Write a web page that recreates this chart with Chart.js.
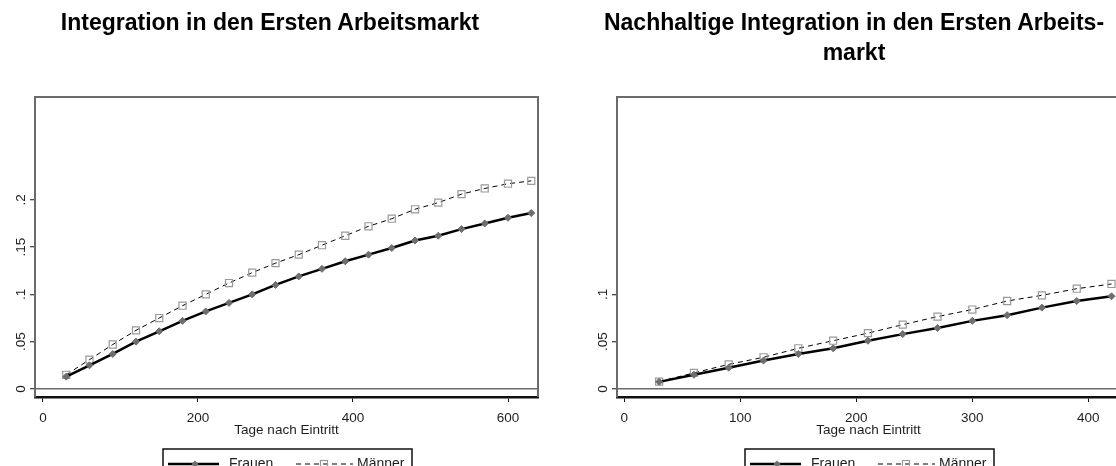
<!DOCTYPE html>
<html>
<head>
<meta charset="utf-8">
<script src="https://cdn.jsdelivr.net/npm/chart.js@4"></script>
<style>
  body { margin: 0; width: 1116px; height: 466px; overflow: hidden; background: #fff; position: relative; }
  .panel { position: absolute; top: 0; width: 560px; height: 466px; }
  .panel canvas { position: absolute; left: 0; top: 0; }
  .title { position: absolute; top: 7px; width: 540px; text-align: center; font: bold 23px "Liberation Sans", Arial, sans-serif; line-height: 30px; color: #000; z-index: 2; white-space: nowrap; }
</style>
</head>
<body>
<div class="panel" style="left:0">
  <div class="title" style="left:0">Integration in den Ersten Arbeitsmarkt</div>
  <canvas id="left" width="560" height="466"></canvas>
</div>
<div class="panel" style="left:582px">
  <div class="title" style="left:2px">Nachhaltige Integration in den Ersten Arbeits-<br>markt</div>
  <canvas id="right" width="560" height="466"></canvas>
</div>
<script>
// values
const days1 = [30, 60, 90, 120, 150, 180, 210, 240, 270, 300, 330, 360, 390, 420, 450, 480, 510, 540, 570, 600, 630];
const frauen1 = [0.013, 0.025, 0.037, 0.050, 0.061, 0.072, 0.082, 0.091, 0.100, 0.110, 0.119, 0.127, 0.135, 0.142, 0.149, 0.157, 0.162, 0.169, 0.175, 0.181, 0.186];
const maenner1 = [0.015, 0.031, 0.047, 0.062, 0.075, 0.088, 0.100, 0.112, 0.123, 0.133, 0.142, 0.152, 0.162, 0.172, 0.180, 0.190, 0.197, 0.206, 0.212, 0.217, 0.220];

const days2 = [30, 60, 90, 120, 150, 180, 210, 240, 270, 300, 330, 360, 390, 420];
const frauen2 = [0.0075, 0.015, 0.0225, 0.030, 0.037, 0.043, 0.051, 0.058, 0.0645, 0.072, 0.078, 0.086, 0.093, 0.098];
const maenner2 = [0.0078, 0.017, 0.026, 0.0335, 0.043, 0.051, 0.059, 0.068, 0.0765, 0.084, 0.093, 0.099, 0.106, 0.111];

const xTicks1 = [0, 200, 400, 600];
const xTicks2 = [0, 100, 200, 300, 400];
const yTicks1 = [0, 0.05, 0.1, 0.15, 0.2];
const yTicks2 = [0, 0.05, 0.1];
const seriesNames = ["Frauen", "Männer"];
const xTitle = "Tage nach Eintritt";

const FONT = "'Liberation Sans', Arial, sans-serif";
const TXT = "#1e1e1e";
const FRAME = "#6b6b6b";

// top and right edge of the plot region
const frame = {
  id: "frame",
  beforeDatasetsDraw(chart) {
    const { ctx, chartArea: a } = chart;
    ctx.save();
    ctx.strokeStyle = FRAME;
    ctx.lineWidth = 2;
    ctx.beginPath();
    ctx.moveTo(a.left, a.top);
    ctx.lineTo(a.right, a.top);
    ctx.lineTo(a.right, a.bottom);
    ctx.stroke();
    ctx.restore();
  }
};

function diamond(ctx, x, y, r) {
  ctx.beginPath();
  ctx.moveTo(x, y - r); ctx.lineTo(x + r, y); ctx.lineTo(x, y + r); ctx.lineTo(x - r, y);
  ctx.closePath();
  ctx.fillStyle = "#6e6e6e";
  ctx.fill();
}

// stata style legend box under the axis title
const legendBox = {
  id: "legendBox",
  afterDraw(chart) {
    const { ctx, chartArea: a } = chart;
    const x0 = Math.round((a.left + a.right) / 2) - 124;
    const top = 449, ty = 464;
    ctx.save();
    ctx.strokeStyle = "#111";
    ctx.lineWidth = 1.5;
    ctx.strokeRect(x0, top, 249, 40);

    ctx.strokeStyle = "#000";
    ctx.lineWidth = 2.5;
    ctx.beginPath(); ctx.moveTo(x0 + 5, ty); ctx.lineTo(x0 + 56, ty); ctx.stroke();
    diamond(ctx, x0 + 32, ty, 3.5);

    ctx.lineWidth = 1;
    ctx.setLineDash([5, 4]);
    ctx.beginPath(); ctx.moveTo(x0 + 133, ty); ctx.lineTo(x0 + 190, ty); ctx.stroke();
    ctx.setLineDash([]);
    ctx.strokeStyle = "#9a9a9a";
    ctx.lineWidth = 1.2;
    ctx.strokeRect(x0 + 157.5, ty - 3.5, 7, 7);

    ctx.fillStyle = TXT;
    ctx.font = "14px " + FONT;
    ctx.textBaseline = "middle";
    ctx.fillText(seriesNames[0], x0 + 66, ty);
    ctx.fillText(seriesNames[1], x0 + 194, ty);
    ctx.restore();
  }
};

function fmt(v) {
  return v === 0 ? "0" : String(v).replace(/^0/, "");
}

function makeChart(id, days, frauen, maenner, xMin, xMax, xTicks, yTicks) {
  const ctx = document.getElementById(id).getContext("2d");
  return new Chart(ctx, {
    type: "line",
    data: {
      datasets: [
        {
          label: seriesNames[0],
          data: days.map((d, i) => ({ x: d, y: frauen[i] })),
          borderColor: "#000",
          borderWidth: 2.5,
          pointStyle: "rectRot",
          pointRadius: 3.5,
          pointBackgroundColor: "#6e6e6e",
          pointBorderColor: "#6e6e6e",
          pointBorderWidth: 1,
          tension: 0
        },
        {
          label: seriesNames[1],
          data: days.map((d, i) => ({ x: d, y: maenner[i] })),
          borderColor: "#000",
          borderWidth: 1,
          borderDash: [5, 4],
          pointStyle: "rect",
          pointRadius: 5,
          pointBackgroundColor: "rgba(255,255,255,0)",
          pointBorderColor: "#9a9a9a",
          pointBorderWidth: 1.2,
          tension: 0
        }
      ]
    },
    options: {
      responsive: false,
      animation: false,
      events: [],
      layout: { padding: { top: 97, right: 22, bottom: 19, left: 0 } },
      plugins: { legend: { display: false }, tooltip: { enabled: false } },
      scales: {
        x: {
          type: "linear",
          min: xMin,
          max: xMax,
          afterBuildTicks: (s) => { s.ticks = xTicks.map((v) => ({ value: v })); },
          afterFit: (s) => { s.height = 50; },
          grid: { drawOnChartArea: false, tickLength: 5, tickColor: "#111", tickWidth: 1 },
          border: { color: "#111", width: 2.5 },
          ticks: { color: TXT, font: { family: FONT, size: 13.5 }, padding: 8, maxRotation: 0, callback: (v) => fmt(v) },
          title: { display: true, text: xTitle, color: TXT, font: { family: FONT, size: 13.5 }, padding: { top: 0, bottom: 9 } }
        },
        y: {
          min: -0.0085,
          max: 0.3087,
          afterBuildTicks: (s) => { s.ticks = yTicks.map((v) => ({ value: v })); },
          afterFit: (s) => { s.width = 35; },
          grid: {
            color: (c) => (c.tick && c.tick.value === 0 ? FRAME : "rgba(0,0,0,0)"),
            lineWidth: 1.5,
            tickLength: 5,
            tickColor: "#111",
            tickWidth: 1
          },
          border: { color: FRAME, width: 2 },
          ticks: {
            color: TXT,
            font: { family: FONT, size: 13.5 },
            minRotation: 90,
            maxRotation: 90,
            crossAlign: "center",
            padding: -1,
            callback: (v) => fmt(v)
          }
        }
      }
    },
    plugins: [frame, legendBox]
  });
}

makeChart("left", days1, frauen1, maenner1, -10.3, 638.7, xTicks1, yTicks1);
makeChart("right", days2, frauen2, maenner2, -6.3, 427.3, xTicks2, yTicks2);
</script>
</body>
</html>
